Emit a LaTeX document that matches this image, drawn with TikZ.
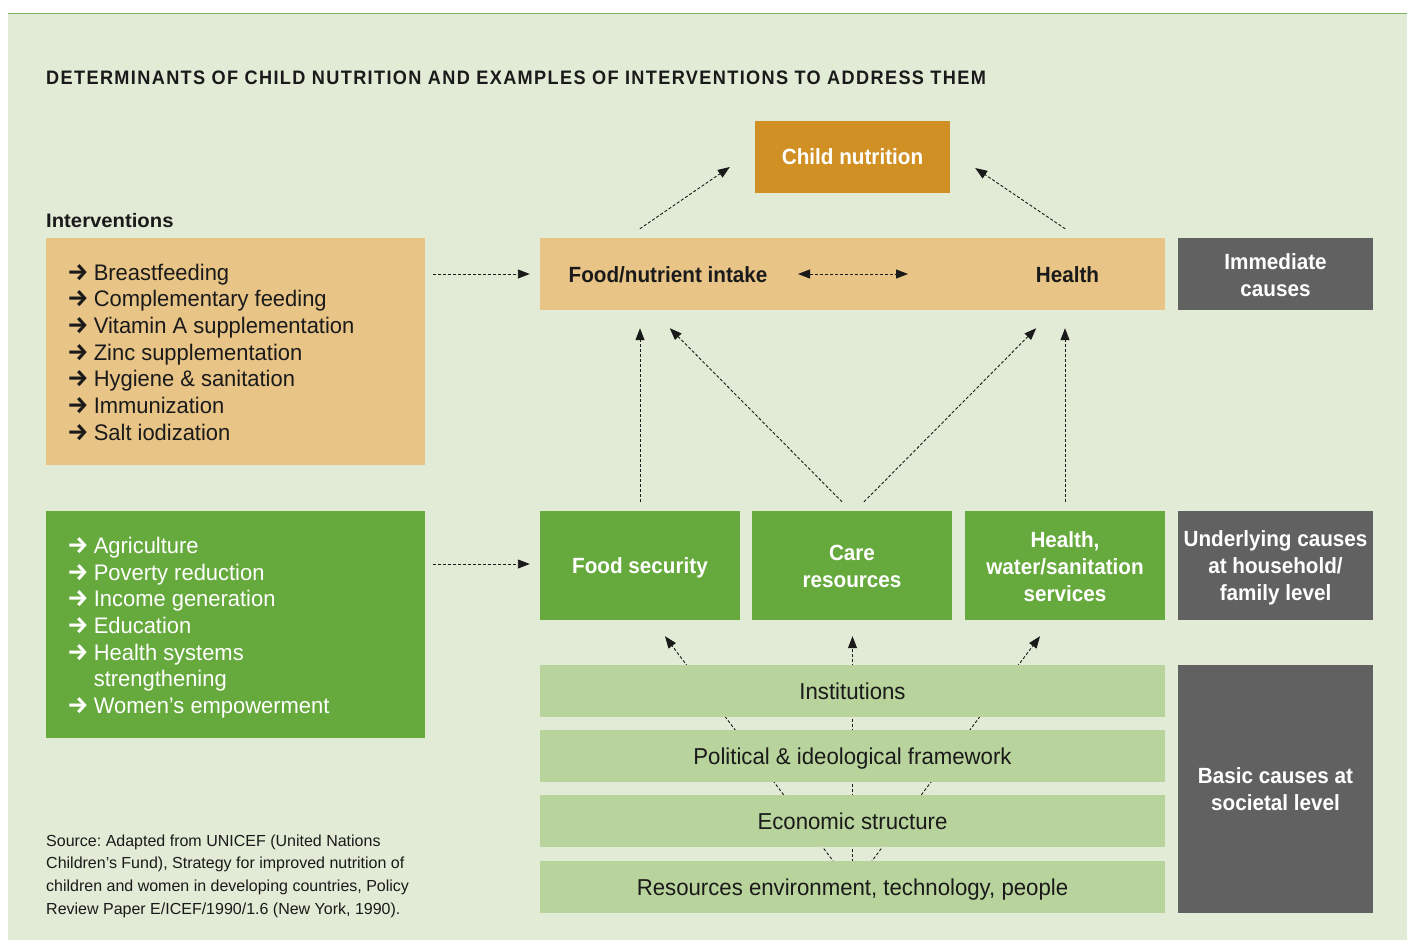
\documentclass[tikz,border=0pt]{standalone}
\usepackage{fontspec}
\setmainfont{Liberation Sans}[FakeStretch=0.94]
\newfontfamily\listfont{Liberation Sans}[FakeStretch=0.975]
\newfontfamily\srcfont{Liberation Sans}[FakeStretch=1.0]
\newfontfamily\basicfont{Liberation Sans}[FakeStretch=0.965]
\newfontfamily\headfont{Liberation Sans}[FakeStretch=1.04]
\newfontfamily\titlefont{Liberation Sans}[FakeStretch=0.93,LetterSpace=7]
\newfontfamily\arrfont{Fira Sans}
\newcommand{\ar}{{\arrfont\bfseries\fontsize{24}{26.7}\selectfont →}}
\frenchspacing
\usetikzlibrary{arrows.meta,calc}
\pgfdeclarelayer{bglayer}
\pgfdeclarelayer{midlayer}
\pgfsetlayers{bglayer,midlayer,main}
\definecolor{bgc}{HTML}{E2EBD6}
\definecolor{topline}{HTML}{7DB55C}
\definecolor{lor}{HTML}{E8C487}
\definecolor{cnut}{HTML}{D09024}
\definecolor{grn}{HTML}{66AA3E}
\definecolor{lgrn}{HTML}{B8D39C}
\definecolor{gry}{HTML}{616161}
\definecolor{txt}{HTML}{1A1A1A}
\tikzset{
  bx/.style={rectangle, inner sep=0pt, align=center},
  darr/.style={draw=txt, line width=0.9pt, dash pattern=on 3pt off 2pt,
    -{Triangle[length=12pt,width=9pt]}},
  ddarr/.style={draw=txt, line width=0.9pt, dash pattern=on 3pt off 2pt,
    {Triangle[length=12pt,width=9pt]}-{Triangle[length=12pt,width=9pt]}},
  flin/.style={draw=txt, line width=0.9pt, dash pattern=on 3pt off 2pt,
    -{Triangle[length=12pt,width=9pt]}},
  blbl/.style={font=\fontsize{22}{27}\selectfont\bfseries, text=txt, inner sep=0pt},
  wlbl/.style={font=\fontsize{22}{27}\selectfont\bfseries, text=white, inner sep=0pt, align=center},
  btxt/.style={font=\basicfont\fontsize{23}{27}\selectfont, text=txt, inner sep=0pt},
  capc/.style={text height=15.8pt, text depth=0pt},
  capr/.style={text height=16.5pt, text depth=0pt},
}
\begin{document}
\begin{tikzpicture}[x=1pt,y=-1pt]
\useasboundingbox (0,0) rectangle (1407,940);
\begin{pgfonlayer}{bglayer}
\fill[white] (0,0) rectangle (1407,940);
\fill[bgc] (8,13) rectangle (1407,940);
\draw[topline, line width=1.2pt] (8,13.6) -- (1407,13.6);
\end{pgfonlayer}

% title
\node[anchor=base west, inner sep=0pt, text=txt, font=\titlefont\fontsize{19.5}{22}\selectfont\bfseries] (title) at (46,84)
  {DETERMINANTS OF CHILD NUTRITION AND EXAMPLES OF INTERVENTIONS TO ADDRESS THEM};
\node[anchor=base west, inner sep=0pt, text=txt, font=\headfont\fontsize{19.5}{22}\selectfont\bfseries] (intv) at (46,227) {Interventions};

% intervention boxes
\node[bx, fill=lor, minimum width=379pt, minimum height=227pt] (ibox) at (235.5,351.5) {};
\node[anchor=north west, inner sep=0pt, text=txt, font=\listfont\fontsize{22.5}{26.7}\selectfont] (ilist) at (67,261.3)
  {\begin{tabular}{@{}l@{\hspace{5pt}}l@{}}
   \ar & Breastfeeding\\ \ar & Complementary feeding\\ \ar & Vitamin A supplementation\\
   \ar & Zinc supplementation\\ \ar & Hygiene \& sanitation\\ \ar & Immunization\\ \ar & Salt iodization
   \end{tabular}};
\node[bx, fill=grn, minimum width=379pt, minimum height=227pt] (gbox) at (235.5,624.5) {};
\node[anchor=north west, inner sep=0pt, text=white, font=\listfont\fontsize{22.5}{26.7}\selectfont] (glist) at (67,534.5)
  {\begin{tabular}{@{}l@{\hspace{5pt}}l@{}}
   \ar & Agriculture\\ \ar & Poverty reduction\\ \ar & Income generation\\ \ar & Education\\
   \ar & Health systems\\ & strengthening\\ \ar & Women’s empowerment
   \end{tabular}};

% child nutrition
\node[bx, fill=cnut, minimum width=195pt, minimum height=72pt] (child) at (852.5,157) {};
\node[wlbl, capc] (childt) at (852.5,157) {Child nutrition};

% immediate
\node[bx, fill=lor, minimum width=625pt, minimum height=72pt] (imm) at (852.5,274) {};
\node[blbl, capc] (fni) at (668,274.5) {Food/nutrient intake};
\node[blbl, capc] (hlt) at (1067.5,274.5) {Health};
\node[bx, fill=gry, minimum width=195pt, minimum height=72pt] (gimm) at (1275.5,274) {};
\node[wlbl] (gimmt) at (1275.5,275) {Immediate\\causes};

% underlying
\node[bx, fill=grn, minimum width=200pt, minimum height=109pt] (fs) at (640,565.5) {};
\node[wlbl, capc] (fst) at (640,566) {Food security};
\node[bx, fill=grn, minimum width=200pt, minimum height=109pt] (care) at (852,565.5) {};
\node[wlbl] (caret) at (852,566.5) {Care\\resources};
\node[bx, fill=grn, minimum width=200pt, minimum height=109pt] (hw) at (1065,565.5) {};
\node[wlbl] (hwt) at (1065,566.5) {Health,\\water/sanitation\\services};
\node[bx, fill=gry, minimum width=195pt, minimum height=109pt] (gund) at (1275.5,565.5) {};
\node[wlbl] (gundt) at (1275.5,567.5) {Underlying causes\\at household/\\family level};

% basic
\node[bx, fill=lgrn, minimum width=625pt, minimum height=52pt] (inst) at (852.5,691) {};
\node[btxt, capr] (instt) at (852.5,691.5) {Institutions};
\node[bx, fill=lgrn, minimum width=625pt, minimum height=52pt] (pol) at (852.5,756) {};
\node[btxt, capr] (polt) at (852.5,756.5) {Political \& ideological framework};
\node[bx, fill=lgrn, minimum width=625pt, minimum height=52pt] (eco) at (852.5,821) {};
\node[btxt, capr] (ecot) at (852.5,821.5) {Economic structure};
\node[bx, fill=lgrn, minimum width=625pt, minimum height=52pt] (res) at (852.5,887) {};
\node[btxt, capr] (rest) at (852.5,887.5) {Resources environment, technology, people};
\node[bx, fill=gry, minimum width=195pt, minimum height=248pt] (gbas) at (1275.5,789) {};
\node[wlbl] (gbast) at (1275.5,789.5) {Basic causes at\\societal level};

% source
\node[anchor=north west, inner sep=0pt, text=txt, font=\srcfont\fontsize{16}{22.7}\selectfont] (src) at (46,830.1)
  {\begin{tabular}{@{}l@{}}
   Source: Adapted from UNICEF (United Nations\\
   Children’s Fund), Strategy for improved nutrition of\\
   children and women in developing countries, Policy\\
   Review Paper E/ICEF/1990/1.6 (New York, 1990).
   \end{tabular}};

% fan lines from basic causes (behind boxes)
\begin{pgfonlayer}{midlayer}
\draw[flin] (res.center) -- ($(fs.south)+(25,16)$);
\draw[flin] (res.center) -- ($(care.south)+(0.5,16)$);
\draw[flin] (res.center) -- ($(hw.south)+(-25,16)$);
\end{pgfonlayer}

% connectors
\draw[darr] ($(ibox.east |- imm.west)+(8,0)$) -- ($(imm.west)+(-10,0)$);
\draw[darr] ($(gbox.east |- fs.west)+(8,-1.5)$) -- ($(fs.west)+(-10,-1.5)$);
\draw[darr] ($(imm.north west)+(100,-9)$) -- ($(child.west)+(-25,10)$);
\draw[darr] ($(imm.north east)+(-100,-9)$) -- ($(child.east)+(25,11)$);
\draw[ddarr] ($(imm.center)+(-54.5,0)$) -- ($(imm.center)+(55.5,0)$);
\draw[darr] ($(fs.north)+(0,-9)$) -- ($(fs.north |- imm.south)+(0,18)$);
\draw[darr] ($(care.north)+(-10,-9)$) -- ($(imm.south west)+(130,18)$);
\draw[darr] ($(care.north)+(12,-9)$) -- ($(imm.south east)+(-129,18)$);
\draw[darr] ($(hw.north)+(0,-9)$) -- ($(hw.north |- imm.south)+(0,18)$);
\end{tikzpicture}
\end{document}
